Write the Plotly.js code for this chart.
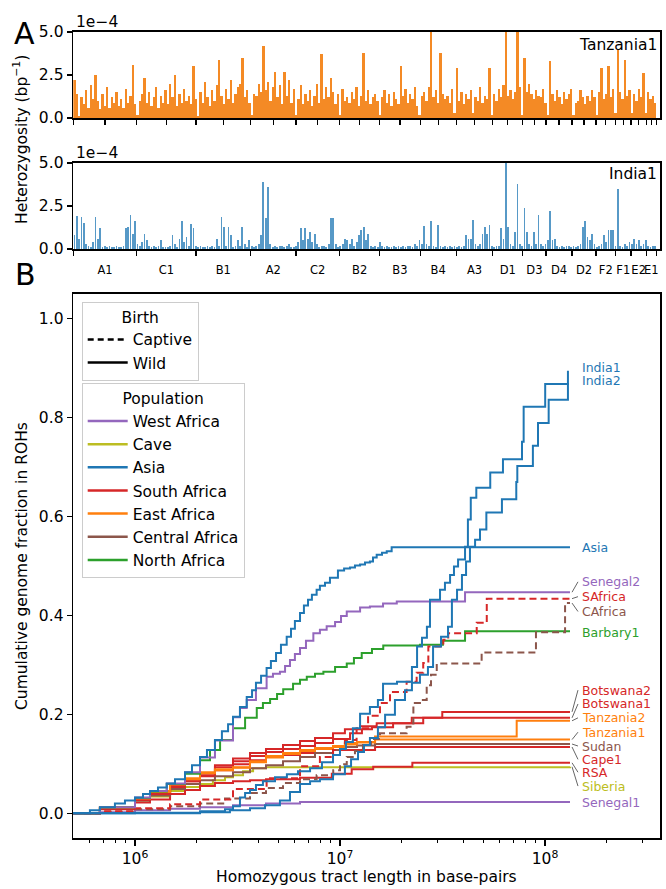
<!DOCTYPE html>
<html><head><meta charset="utf-8">
<script src="https://cdn.plot.ly/plotly-3.0.1.min.js"></script>
<style>html,body{margin:0;padding:0;background:#fff}#chart{width:666px;height:889px}</style>
</head><body><div id="chart"></div>
<script>
// ---------- Panel A data ----------
const chromNames = ['A1','C1','B1','A2','C2','B2','B3','B4','A3','D1','D3','D4','D2','F2','F1','E2','E1'];
const chromLenMb = [239,224,206,171,165,151,153,136,138,113,88,98,91,73,59,57,38];
const windowMb = 8.8;
// heterozygosity per window, units of 1e-4 per bp
const tanzania1Het = [
2.2,1.4,0.1,1.2,0.8,1.6,0.6,1.9,1.1,2.5, 1.0,0.5,1.4,0.7,1.8,0.6,1.2,0.9,1.5,0.7,
1.1,0.6,1.7,0.9,1.3,3.1,0.8,0.2,1.0,1.4, 2.3,0.9,1.5,0.7,1.2,1.8,0.6,1.3,0.9,1.6,
0.8,2.0,1.2,2.5,0.7,1.4,0.9,1.7,1.0,1.3, 0.8,3.0,1.1,0.1,1.5,0.9,2.1,1.2,0.7,1.6,
1.0,1.9,3.4,1.3,0.8,1.7,1.1,2.2,0.9,1.4, 1.8,2.0,3.5,1.2,1.6,0.9,0.2,1.4,1.3,2.0,
1.5,4.2,1.6,2.1,1.0,1.8,2.7,1.2,1.9,0.8, 2.7,1.3,2.2,0.9,1.7,0.2,1.1,1.9,0.8,1.4,
1.0,1.6,0.7,1.3,2.0,0.9,3.7,1.1,1.8,1.2, 2.3,1.5,0.8,1.4,0.2,1.7,1.0,1.2,0.9,1.5,
1.1,1.8,0.7,1.3,3.8,1.0,1.6,0.8,1.2,1.4, 1.0,0.2,1.2,1.6,0.9,1.4,0.7,1.5,1.1,0.8,
3.0,1.3,1.7,0.9,1.4,1.1,1.8,0.7,0.2,1.3, 1.5,1.0,1.8,5.0,1.2,1.6,0.9,3.8,1.4,1.1,
1.3,0.9,1.7,0.3,2.9,1.0,1.5,0.8,1.4,1.1, 1.6,0.3,1.2,1.0,1.8,0.9,1.3,1.1,2.9,0.2,
1.4,1.0,1.7,1.2,1.9,5.0,1.3,1.6,1.1,1.5, 5.0,1.8,0.2,3.5,1.5,2.0,1.4,1.1,1.6,1.3,
1.2,1.7,0.9,0.2,3.3,1.4,1.0,1.6,1.2,0.8, 1.5,1.1,1.4,1.7,0.2,0.9,1.0,1.6,1.2,0.8,
1.3,1.0,1.6,1.2,0.2,1.5,2.9,1.1,1.4,3.0, 1.2,1.7,0.3,4.0,1.5,1.1,3.4,1.3,1.6,0.3,
1.4,1.0,1.7,1.2,2.6,0.3,1.5,1.1,1.3,0.9];
const india1Het = [
0.8,1.9,0.6,1.85,1.5,0.3,0.2,0.1,0.4,1.85, 0.6,1.2,0.1,0.15,0.1,0.2,0.1,0.1,0.15,0.1,
0.1,0.2,1.2,1.3,2.0,0.9,1.6,0.3,0.2,0.4, 0.9,0.5,0.2,0.1,0.15,0.1,0.2,0.5,0.1,0.1,
0.1,0.2,0.8,0.3,0.1,0.6,1.6,0.4,0.7,0.2, 1.45,1.2,0.2,0.1,0.15,0.1,0.1,0.2,0.1,0.15,
0.1,0.6,0.2,1.85,1.3,0.2,1.3,0.8,0.1,0.2, 0.5,0.2,1.3,0.3,0.1,0.5,0.2,0.1,0.15,0.3,
0.8,3.9,1.8,3.6,0.3,0.1,0.2,0.1,0.15,0.2, 0.1,0.15,0.3,0.1,0.1,0.2,0.4,1.2,0.5,1.2,
0.6,1.0,0.4,0.9,0.3,0.1,0.2,0.15,0.1,0.3, 1.8,1.8,0.3,0.1,0.15,0.3,0.6,0.5,0.3,0.6,
0.2,0.4,0.8,1.1,1.3,0.5,0.9,0.2,0.1,0.15, 0.1,0.4,0.2,0.1,0.15,0.1,0.1,0.2,0.1,0.15,
0.1,0.2,0.1,0.15,0.2,0.1,0.3,0.2,0.5,0.3, 1.35,0.3,0.2,1.6,0.2,0.1,1.4,0.2,0.1,0.15,
0.1,0.2,0.1,0.15,0.1,0.2,0.1,0.15,0.8,0.6, 0.6,1.7,0.3,0.2,0.3,0.9,1.3,0.9,1.4,0.2,
0.1,0.2,0.2,1.2,0.6,5.0,1.3,0.3,0.2,1.0, 3.8,0.3,0.2,2.4,1.0,0.3,0.2,1.0,0.3,2.0,
0.3,0.2,0.3,0.5,2.2,0.5,0.6,0.2,0.1,0.15, 0.1,0.2,0.15,0.1,0.2,0.1,0.2,0.3,1.3,1.6,
0.7,0.5,0.9,0.3,0.1,0.2,0.3,0.8,0.4,1.1, 1.1,1.1,0.2,3.5,0.2,0.1,0.3,0.2,0.4,0.3,
0.6,0.3,0.5,0.2,0.3,0.5,0.2,0.1,0.2,0.15];
const hetTickVals = [0, 2.5, 5.0];

// ---------- Panel B data: log10(tract length bp) and cumulative fraction ----------
const india1Log = [5.698,6.000,6.317,6.463,6.561,6.634,6.707,6.756,6.805,6.854,6.902,6.966,7.024,7.054,7.088,7.117,7.146,7.185,7.220,7.268,7.317,7.351,7.390,7.429,7.454,7.493,7.527,7.546,7.571,7.595,7.615,7.634,7.659,7.683,7.714,7.790,7.860,7.865,7.941,7.966,8.018,8.112];
const india1Frac = [0,0,.002,.006,.010,.016,.026,.043,.059,.065,.069,.079,.095,.109,.124,.138,.152,.174,.199,.229,.249,.264,.280,.296,.337,.357,.377,.432,.452,.482,.509,.539,.553,.574,.608,.635,.670,.702,.743,.789,.836,.895];
const india2Log = [5.698,6.000,6.317,6.439,6.478,6.512,6.537,6.561,6.590,6.624,6.683,6.741,6.795,6.854,6.912,6.966,7.000,7.029,7.063,7.098,7.146,7.185,7.210,7.278,7.351,7.376,7.400,7.424,7.439,7.488,7.512,7.537,7.556,7.576,7.610,7.624,7.638,7.665,7.733,7.795,7.888,7.896,8.001,8.117];
const india2Frac = [0,.001,.004,.008,.014,.032,.041,.047,.057,.065,.073,.079,.085,.091,.103,.118,.130,.144,.172,.201,.215,.229,.262,.266,.296,.337,.355,.377,.432,.452,.466,.482,.499,.513,.539,.594,.638,.658,.689,.716,.751,.822,.868,.868];
const asiaLog = [5.698,5.780,5.829,5.902,5.951,6.000,6.039,6.073,6.112,6.155,6.195,6.244,6.278,6.317,6.351,6.390,6.424,6.454,6.478,6.512,6.545,6.571,6.590,6.615,6.642,6.663,6.688,6.712,6.740,6.761,6.780,6.805,6.824,6.844,6.863,6.886,6.902,6.927,6.951,6.990,7.020,7.049,7.073,7.098,7.122,7.146,7.161,7.179,7.205,7.228,7.252,8.122];
const asiaFrac = [0,.006,.012,.020,.026,.032,.039,.045,.052,.060,.069,.083,.097,.114,.128,.148,.166,.180,.195,.215,.235,.249,.264,.278,.294,.308,.324,.341,.357,.373,.389,.405,.420,.432,.442,.452,.460,.466,.476,.491,.495,.497,.501,.503,.507,.509,.517,.523,.527,.530,.538,.538];
const senegal2Log = [5.698,5.829,6.000,6.073,6.155,6.244,6.317,6.390,6.478,6.512,6.545,6.590,6.642,6.673,6.707,6.732,6.756,6.780,6.805,6.834,6.870,6.902,6.935,6.976,7.005,7.033,7.098,7.146,7.210,7.277,7.610,8.122];
const senegal2Frac = [0,.012,.032,.045,.060,.083,.113,.147,.194,.213,.229,.253,.276,.282,.286,.298,.310,.322,.334,.349,.364,.371,.378,.387,.399,.408,.416,.418,.424,.428,.447,.447];
const sAfricaLog = [5.698,5.829,6.000,6.171,6.317,6.478,6.642,6.805,6.902,6.966,7.024,7.081,7.137,7.195,7.244,7.325,7.374,7.406,7.431,7.504,7.528,7.667,7.716,8.122];
const sAfricaFrac = [0,.004,.010,.018,.028,.049,.071,.095,.114,.128,.148,.172,.197,.223,.245,.266,.284,.304,.337,.351,.364,.385,.434,.434];
const cAfricaLog = [5.698,5.829,6.000,6.171,6.317,6.439,6.561,6.639,6.722,6.805,6.886,6.967,7.000,7.033,7.073,7.112,7.151,7.195,7.325,7.358,7.390,7.423,7.444,7.472,7.691,7.956,8.098,8.122];
const cAfricaFrac = [0,.003,.008,.014,.020,.030,.041,.051,.061,.069,.077,.087,.099,.114,.126,.138,.150,.162,.175,.223,.229,.259,.280,.303,.325,.366,.425,.425];
const barbary1Log = [5.698,5.829,6.000,6.073,6.155,6.244,6.317,6.366,6.415,6.478,6.537,6.594,6.624,6.659,6.693,6.723,6.771,6.805,6.838,6.878,6.919,6.976,7.033,7.068,7.106,7.156,7.211,7.390,7.502,7.610,8.122];
const barbary1Frac = [0,.012,.031,.044,.059,.080,.107,.128,.148,.172,.193,.213,.223,.231,.241,.251,.262,.270,.276,.282,.286,.296,.303,.314,.324,.332,.339,.341,.349,.368,.368];
const botswana2Log = [5.698,5.829,6.000,6.073,6.171,6.244,6.317,6.390,6.478,6.561,6.639,6.722,6.805,6.878,6.966,7.024,7.098,7.179,7.350,7.499,8.122];
const botswana2Frac = [0,.010,.028,.041,.055,.069,.081,.097,.111,.122,.130,.138,.146,.152,.162,.170,.176,.182,.193,.205,.205];
const botswana1Log = [5.698,5.829,6.000,6.073,6.171,6.244,6.317,6.390,6.478,6.561,6.639,6.722,6.805,6.878,6.966,7.049,7.107,7.156,7.259,7.406,8.122];
const botswana1Frac = [0,.010,.027,.039,.053,.065,.077,.093,.105,.116,.124,.130,.136,.142,.150,.162,.170,.174,.182,.193,.193];
const tanzania2Log = [5.698,5.829,6.000,6.073,6.171,6.244,6.317,6.390,6.478,6.561,6.639,6.722,6.805,6.878,6.966,7.024,7.083,7.171,7.862,8.122];
const tanzania2Frac = [0,.012,.031,.045,.059,.071,.083,.089,.093,.105,.116,.122,.128,.132,.136,.142,.144,.155,.187,.187];
const tanzania1Log = [5.698,5.829,6.000,6.073,6.171,6.244,6.317,6.390,6.478,6.561,6.639,6.722,6.805,6.878,6.966,7.024,7.083,7.171,8.122];
const tanzania1Frac = [0,.012,.030,.043,.058,.069,.081,.087,.092,.103,.113,.120,.126,.130,.134,.139,.143,.149,.149];
const sudanLog = [5.698,5.829,6.000,6.073,6.171,6.244,6.317,6.390,6.478,6.561,6.639,6.722,6.805,6.878,6.966,7.024,7.083,7.171,8.122];
const sudanFrac = [0,.010,.026,.036,.049,.059,.067,.075,.083,.091,.097,.105,.114,.122,.128,.134,.137,.140,.140];
const cape1Log = [5.698,5.829,6.000,6.073,6.171,6.244,6.317,6.390,6.478,6.561,6.639,6.722,6.805,6.966,7.171,8.122];
const cape1Frac = [0,.010,.028,.039,.053,.065,.075,.087,.099,.107,.114,.118,.122,.128,.134,.134];
const rsaLog = [5.698,5.829,6.000,6.073,6.171,6.244,6.317,6.390,6.478,6.561,6.639,6.805,6.960,7.057,7.162,7.353,8.122];
const rsaFrac = [0,.008,.022,.028,.039,.047,.055,.061,.065,.067,.069,.072,.080,.089,.094,.102,.102];
const siberiaLog = [5.698,5.829,6.000,6.073,6.171,6.244,6.317,6.380,6.439,6.478,6.527,6.576,6.639,8.122];
const siberiaFrac = [0,.010,.026,.034,.045,.053,.059,.067,.073,.077,.085,.091,.093,.094];
const senegal1Log = [5.698,5.829,6.000,6.171,6.317,6.478,6.639,6.805,8.122];
const senegal1Frac = [0,.002,.006,.009,.012,.016,.020,.023,.023];

const sampleNames = ['Senegal1','Siberia','RSA','Cape1','Sudan','Botswana1','Botswana2','Tanzania1','Tanzania2','Barbary1','CAfrica','SAfrica','Senegal2','Asia','India2','India1'];
const samplePop   = ['West Africa','Cave','South Africa','South Africa','Central Africa','South Africa','South Africa','East Africa','East Africa','North Africa','Central Africa','South Africa','West Africa','Asia','Asia','Asia'];
const sampleBirth = ['Wild','Wild','Wild','Wild','Wild','Wild','Wild','Wild','Wild','Wild','Captive','Captive','Wild','Wild','Wild','Wild'];
const sampleLog  = [senegal1Log,siberiaLog,rsaLog,cape1Log,sudanLog,botswana1Log,botswana2Log,tanzania1Log,tanzania2Log,barbary1Log,cAfricaLog,sAfricaLog,senegal2Log,asiaLog,india2Log,india1Log];
const sampleFrac = [senegal1Frac,siberiaFrac,rsaFrac,cape1Frac,sudanFrac,botswana1Frac,botswana2Frac,tanzania1Frac,tanzania2Frac,barbary1Frac,cAfricaFrac,sAfricaFrac,senegal2Frac,asiaFrac,india2Frac,india1Frac];

const populations = ['West Africa','Cave','Asia','South Africa','East Africa','Central Africa','North Africa'];
const popColors   = ['#9467bd','#bcbd22','#1f77b4','#d62728','#ff7f0e','#8c564b','#2ca02c'];
const birthTypes  = ['Captive','Wild'];

// label placement (layout, not data)
const labelFrac = [0.022,0.055,0.083,0.109,0.136,0.221,0.249,0.164,0.193,0.365,0.408,0.438,0.468,0.537,0.875,0.902];
const hasConnector = [false,true,true,true,true,true,true,true,true,false,true,true,true,false,false,false];

// ---------- build ----------
const FONT = 'DejaVu Sans, sans-serif';
const W = 666, H = 889;
const pxX = v => v / W, pxY = v => 1 - v / H;
const colorOf = p => popColors[populations.indexOf(p)];

const bounds = [0]; chromLenMb.forEach((l,i)=>bounds.push(bounds[i]+l));
const centers = chromLenMb.map((l,i)=>bounds[i]+l/2);
const winX = tanzania1Het.map((_,i)=>(i+0.5)*windowMb);
const xMax = bounds[bounds.length-1] + 14;

const traces = [];
traces.push({type:'bar', x: winX, y: tanzania1Het, xaxis:'x', yaxis:'y', width: windowMb,
  marker:{color:'rgba(243,128,18,0.92)', line:{width:0}}, showlegend:false, hoverinfo:'skip'});
traces.push({type:'bar', x: winX, y: india1Het, xaxis:'x2', yaxis:'y2', width: windowMb*0.75,
  marker:{color:'rgba(31,119,180,0.75)', line:{width:0}}, showlegend:false, hoverinfo:'skip'});

sampleNames.forEach((n,i)=>{
  traces.push({x: sampleLog[i].map(v=>Math.pow(10,v)), y: sampleFrac[i], xaxis:'x3', yaxis:'y3',
    mode:'lines', line:{color: colorOf(samplePop[i]), width:2, shape:'hv', dash: sampleBirth[i]==='Captive' ? '7px,4px' : 'solid'},
    showlegend:false, hoverinfo:'skip', name:n});
});

// connectors
const connStartLog = 8.132, connEndLog = 8.161, labelLog = 8.171;
const cx = [], cy = [];
sampleNames.forEach((n,i)=>{
  if(!hasConnector[i]) return;
  const f = sampleFrac[i];
  cx.push(Math.pow(10,connStartLog), Math.pow(10,connEndLog), null);
  cy.push(f[f.length-1], labelFrac[i], null);
});
traces.push({x:cx, y:cy, xaxis:'x3', yaxis:'y3', mode:'lines', line:{color:'#666666', width:1}, showlegend:false, hoverinfo:'skip'});

// legend entries
birthTypes.forEach(b=>{
  traces.push({x:[null], y:[null], xaxis:'x3', yaxis:'y3', mode:'lines', name:b, legend:'legend',
    line:{color:'black', width:2.5, dash: b==='Captive' ? '6px,4px' : 'solid'}});
});
populations.forEach((p,i)=>{
  traces.push({x:[null], y:[null], xaxis:'x3', yaxis:'y3', mode:'lines', name:p, legend:'legend2',
    line:{color: popColors[i], width:2.5}});
});

const axBase = {showline:true, mirror:true, linecolor:'black', linewidth:1.7, showgrid:false, zeroline:false,
  ticks:'outside', tickcolor:'black', tickwidth:1.3, ticklen:5, tickfont:{family:FONT, size:15.5, color:'black'}};
const xDom = [pxX(73.3), pxX(660)];

function note(text, x, y, extra){
  return Object.assign({text:text, x:pxX(x), y:pxY(y), xref:'paper', yref:'paper', xanchor:'center', yanchor:'middle',
    showarrow:false, font:{family:FONT, size:15.5, color:'black'}}, extra||{});
}
const annotations = [
  note('A', 24, 34, {font:{family:FONT,size:30,color:'black'}}),
  note('B', 25, 274, {font:{family:FONT,size:30,color:'black'}}),
  note('1e\u22124', 74, 22, {xanchor:'left'}),
  note('1e\u22124', 74, 153, {xanchor:'left'}),
  note('Tanzania1', 659, 45, {xanchor:'right'}),
  note('India1', 659, 174, {xanchor:'right'}),
  note('Heterozygosity (bp<sup>\u22121</sup>)', 21, 140, {textangle:-90}),
  note('Cumulative genome fraction in ROHs', 22, 566, {textangle:-90}),
  note('Homozygous tract length in base-pairs', 366.5, 877)
];
sampleNames.forEach((n,i)=>{
  annotations.push({text:n, x:labelLog, y:labelFrac[i], xref:'x3', yref:'y3', xanchor:'left', yanchor:'middle',
    showarrow:false, font:{family:FONT, size:12.5, color: colorOf(samplePop[i])}});
});

const minorLog = [6e5,7e5,8e5,9e5,2e6,3e6,4e6,5e6,6e6,7e6,8e6,9e6,2e7,3e7,4e7,5e7,6e7,7e7,8e7,9e7,2e8,3e8];

const legendBase = {xanchor:'left', yanchor:'top', bgcolor:'rgba(255,255,255,0.85)', bordercolor:'#cccccc', borderwidth:1,
  font:{family:FONT, size:15.5, color:'black'}, tracegroupgap:0, itemwidth:40};

const layout = {
  width:W, height:H, margin:{l:0,r:0,t:0,b:0}, paper_bgcolor:'white', plot_bgcolor:'white',
  font:{family:FONT, color:'black'}, hovermode:false, bargap:0, barmode:'overlay',
  xaxis: Object.assign({}, axBase, {domain:xDom, anchor:'y', range:[0,xMax],
    tickmode:'array', tickvals: bounds.concat(centers), showticklabels:false}),
  yaxis: Object.assign({}, axBase, {domain:[pxY(118), pxY(32)], anchor:'x', range:[0,5],
    tickmode:'array', tickvals:hetTickVals, ticktext:hetTickVals.map(v=>v.toFixed(1))}),
  xaxis2: Object.assign({}, axBase, {domain:xDom, anchor:'y2', range:[0,xMax],
    tickmode:'array', tickvals:centers, ticktext:chromNames, ticks:'', ticklabelstandoff:9, tickangle:0,
    tickfont:{family:FONT, size:11.5, color:'black'},
    minor:{tickmode:'array', tickvals:bounds, ticks:'outside', ticklen:5, tickwidth:1.3, tickcolor:'black', showgrid:false}}),
  yaxis2: Object.assign({}, axBase, {domain:[pxY(249), pxY(163)], anchor:'x2', range:[0,5],
    tickmode:'array', tickvals:hetTickVals, ticktext:hetTickVals.map(v=>v.toFixed(1))}),
  xaxis3: Object.assign({}, axBase, {domain:xDom, anchor:'y3', type:'log', range:[Math.log10(5e5), Math.log10(3.64e8)],
    tickmode:'array', tickvals:[1e6,1e7,1e8], ticktext:['10<sup>6</sup>','10<sup>7</sup>','10<sup>8</sup>'], ticklen:6,
    minor:{tickmode:'array', tickvals:minorLog, ticks:'outside', ticklen:3.5, tickwidth:1, tickcolor:'black', showgrid:false}}),
  yaxis3: Object.assign({}, axBase, {domain:[pxY(838), pxY(294)], anchor:'x3', range:[-0.05,1.05],
    tickmode:'array', tickvals:[0,0.2,0.4,0.6,0.8,1.0], ticktext:['0.0','0.2','0.4','0.6','0.8','1.0']}),
  legend: Object.assign({}, legendBase, {x:pxX(81.7), y:pxY(301.7), title:{text:'Birth', side:'top center', font:{family:FONT,size:15.5,color:'black'}}}),
  legend2: Object.assign({}, legendBase, {x:pxX(81.7), y:pxY(383.3), title:{text:'Population', side:'top center', font:{family:FONT,size:15.5,color:'black'}}}),
  annotations: annotations,
  showlegend:true
};

Plotly.newPlot('chart', traces, layout, {displayModeBar:false, staticPlot:true});
</script></body></html>
